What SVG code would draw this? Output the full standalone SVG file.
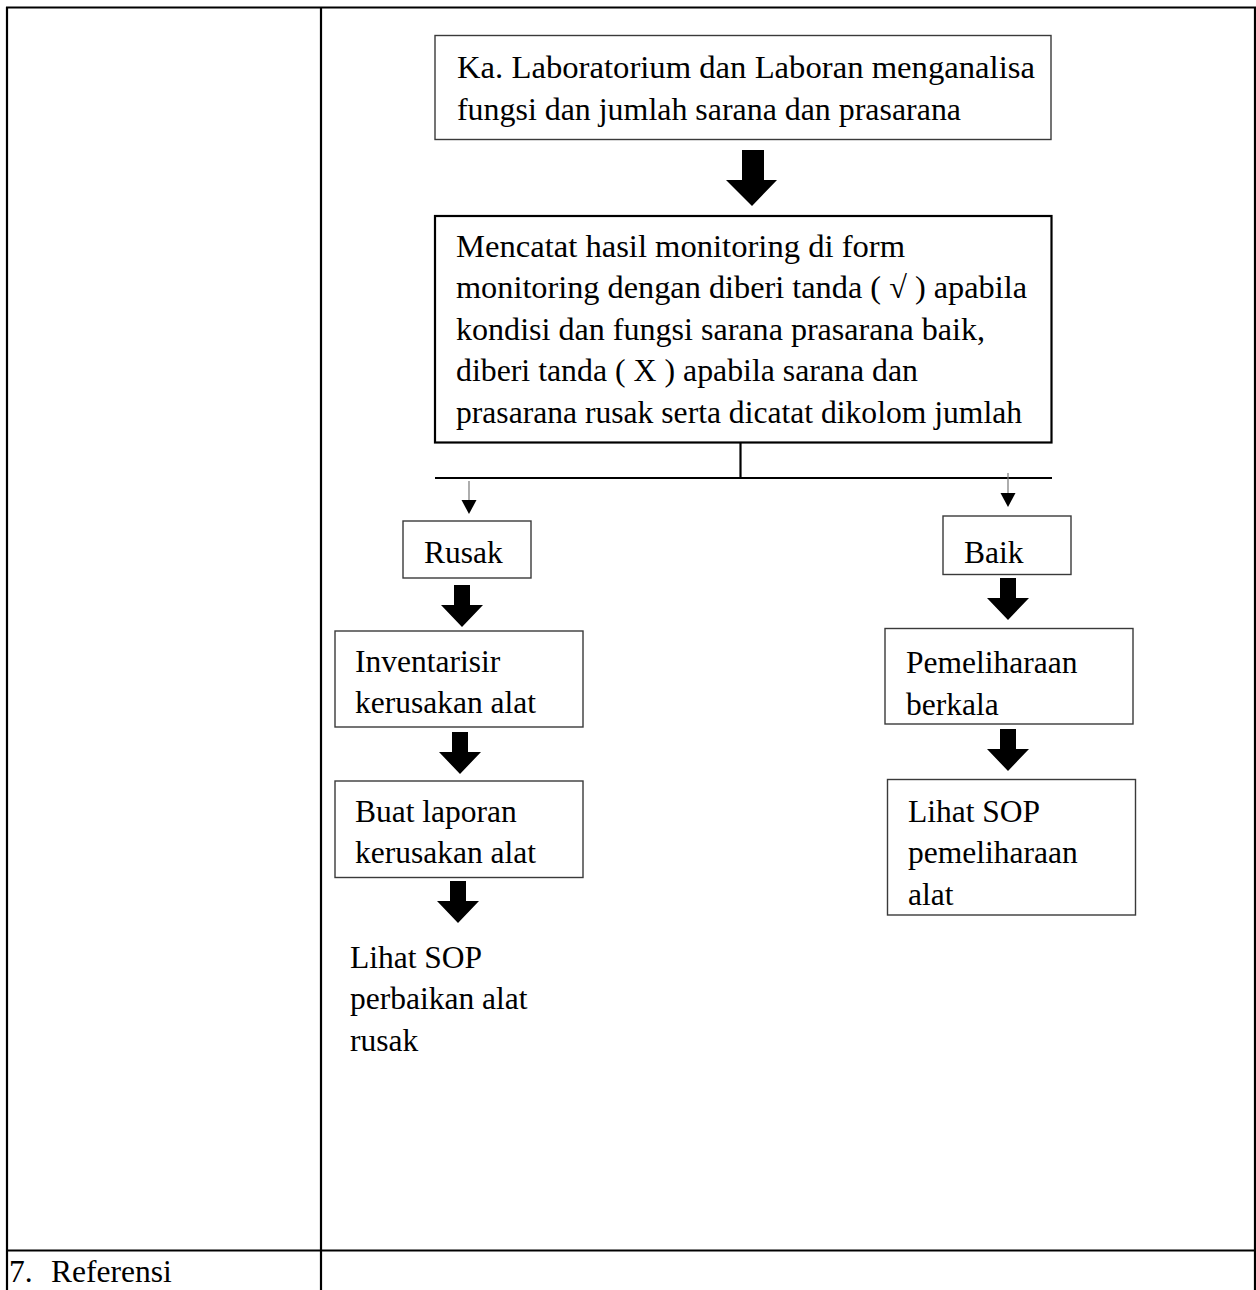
<svg xmlns="http://www.w3.org/2000/svg" width="1256" height="1290" viewBox="0 0 1256 1290">
  <style>
    .grid { stroke: #000; stroke-width: 2.2; fill: none; }
    .box { fill: #fff; stroke: #3a3a3a; stroke-width: 1.4; }
    .box-main { fill: #fff; stroke: #000; stroke-width: 2.2; }
    .t { font-family: "Liberation Serif", "Times New Roman", serif; font-size: 31.5px; fill: #000; }
    .thin { stroke: #777; stroke-width: 1.2; fill: none; }
    .link { stroke: #000; stroke-width: 2.2; fill: none; }
    .block { fill: #000; }
  </style>
  <defs>
    <!-- short block arrow, tip at (0,42) -->
    <path id="blk" d="M-8,0 H8 V20 H21 L0,42 L-21,20 H-8 Z"/>
    <!-- small triangular head for the thin branch arrows -->
    <path id="tri" d="M-7.5,0 H7.5 L0,14 Z"/>
  </defs>

  <rect width="1256" height="1290" fill="#fff"/>

  <!-- table frame -->
  <g id="table">
    <line class="grid" x1="6" y1="7.5" x2="1256" y2="7.5"/>
    <line class="grid" x1="7" y1="7" x2="7" y2="1290"/>
    <line class="grid" x1="1255" y1="7" x2="1255" y2="1290"/>
    <line class="grid" x1="321" y1="7" x2="321" y2="1290"/>
    <line class="grid" x1="7" y1="1250.5" x2="1255" y2="1250.5"/>
    <text class="t" font-size="29.5" x="9" y="1282">7.</text>
    <text class="t" font-size="29.5" x="51" y="1282">Referensi</text>
  </g>

  <!-- connectors -->
  <g id="connectors">
    <path class="block" d="M742,150 H764 V180 H777 L752,206 L726,180 H742 Z"/>
    <line class="link" x1="740.5" y1="442" x2="740.5" y2="478"/>
    <line class="link" x1="435" y1="478" x2="1052" y2="478"/>
    <line class="thin" x1="469" y1="481" x2="469" y2="500"/>
    <use href="#tri" x="469" y="500"/>
    <line class="thin" x1="1008" y1="473" x2="1008" y2="493"/>
    <use href="#tri" x="1008" y="493"/>
    <use href="#blk" class="block" x="462" y="585"/>
    <use href="#blk" class="block" x="460" y="732"/>
    <use href="#blk" class="block" x="458" y="881"/>
    <use href="#blk" class="block" x="1008" y="578"/>
    <use href="#blk" class="block" x="1008" y="729"/>
  </g>

  <g id="analisa">
    <rect class="box" x="435" y="35.5" width="616" height="104"/>
    <text class="t" x="457" y="78" textLength="578" lengthAdjust="spacingAndGlyphs">Ka. Laboratorium dan Laboran menganalisa</text>
    <text class="t" x="457" y="120" textLength="504" lengthAdjust="spacingAndGlyphs">fungsi dan jumlah sarana dan prasarana</text>
  </g>

  <g id="mencatat">
    <rect class="box-main" x="435" y="216" width="616.5" height="226.5"/>
    <text class="t" x="456" y="256.5" textLength="449" lengthAdjust="spacingAndGlyphs">Mencatat hasil monitoring di form</text>
    <text class="t" x="456" y="298" textLength="571" lengthAdjust="spacingAndGlyphs">monitoring dengan diberi tanda ( √ ) apabila</text>
    <text class="t" x="456" y="339.5" textLength="529" lengthAdjust="spacingAndGlyphs">kondisi dan fungsi sarana prasarana baik,</text>
    <text class="t" x="456" y="381" textLength="462" lengthAdjust="spacingAndGlyphs">diberi tanda ( X ) apabila sarana dan</text>
    <text class="t" x="456" y="422.5" textLength="566" lengthAdjust="spacingAndGlyphs">prasarana rusak serta dicatat dikolom jumlah</text>
  </g>

  <g id="rusak">
    <rect class="box" x="403" y="521" width="128" height="57"/>
    <text class="t" x="424" y="562.5">Rusak</text>
  </g>

  <g id="baik">
    <rect class="box" x="943" y="516" width="128" height="58.5"/>
    <text class="t" x="964" y="562.5">Baik</text>
  </g>

  <g id="inventarisir">
    <rect class="box" x="335" y="631" width="248" height="96"/>
    <text class="t" x="355" y="671.5">Inventarisir</text>
    <text class="t" x="355" y="713">kerusakan alat</text>
  </g>

  <g id="laporan">
    <rect class="box" x="335" y="781" width="248" height="96.5"/>
    <text class="t" x="355" y="821.5">Buat laporan</text>
    <text class="t" x="355" y="863">kerusakan alat</text>
  </g>

  <g id="sop-perbaikan">
    <text class="t" x="350" y="967.5">Lihat SOP</text>
    <text class="t" x="350" y="1009">perbaikan alat</text>
    <text class="t" x="350" y="1050.5">rusak</text>
  </g>

  <g id="pemeliharaan">
    <rect class="box" x="885" y="628.5" width="248" height="95.5"/>
    <text class="t" x="906" y="673">Pemeliharaan</text>
    <text class="t" x="906" y="715">berkala</text>
  </g>

  <g id="sop-pemeliharaan">
    <rect class="box" x="887.5" y="779.5" width="248" height="135.5"/>
    <text class="t" x="908" y="821.5">Lihat SOP</text>
    <text class="t" x="908" y="863">pemeliharaan</text>
    <text class="t" x="908" y="904.5">alat</text>
  </g>
</svg>
